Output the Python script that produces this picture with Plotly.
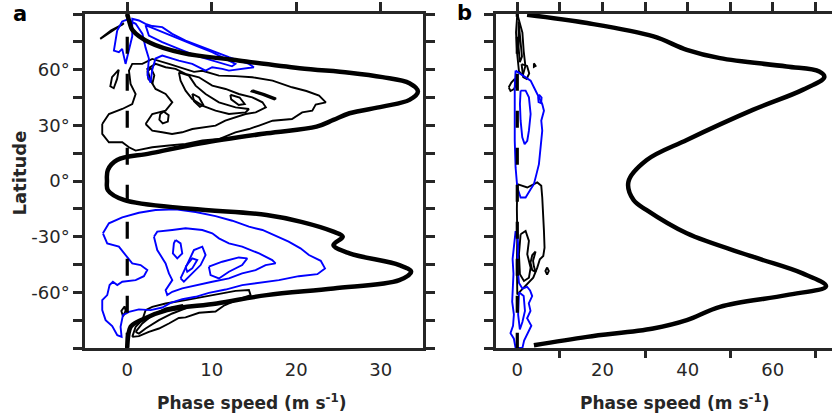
import plotly.graph_objects as go

# ---------------- thick zonal-wind profiles (phase speed, latitude) ----------------
a_u = [0, 0.3, 0.6, 2.7, 6.6, 12.5, 20.4, 26.3, 30.2, 33.4, 34.4, 33.4, 30.2, 26.3, 24.4, 22.4,
       16.5, 8.7, 2.7, -1.2, -2.3, -2.4, -2.3, -0.4, 7.5, 16.5, 20.6, 24.4, 25.5, 24.4, 26.3,
       32.2, 33.6, 32.2, 24.4, 16.5, 10.6, 4.7, 1.6, 0.4, 0, 0]
a_lat = [90, 85, 81.5, 74.5, 68.9, 65.3, 60.8, 58.4, 56, 52.7, 48.2, 43.7, 40.1, 36.5, 32.9, 29.3,
         25.7, 20.3, 14.9, 11.3, 5.9, 0, -4.9, -10.2, -15, -18.3, -22, -27.3, -30, -34.5, -39,
         -45.3, -48.9, -53.4, -57.9, -61.5, -66, -69.6, -75, -78.6, -89.4, -90]

b_u = [2.3, 16.4, 32, 39.8, 47.6, 63.2, 70.9, 72.1, 67, 55.3, 39.8, 30.4, 26.1, 27.3, 30.3,
       39.8, 55.3, 67, 72.5, 63.2, 47.6, 39.8, 31.9, 16.4, 3.9]
b_lat = [89.6, 85.1, 77.9, 70.7, 66.2, 61.7, 59, 56, 49.1, 38.3, 22.1, 11.3, -0.4, -10.3, -15.6,
         -28.2, -40.8, -49.8, -56.7, -61.5, -67.8, -75, -79.5, -84, -88.5]

# ---------------- contour outlines, panel a: (phase speed, latitude) ----------------
a_black = [
    [(-2.96, 30.7), (-2.17, 36.1), (-0.59, 38.8), (0.59, 41.5), (0.99, 46.9), (0.39, 52.3), (0.2, 59.5),
     (0.59, 63.1), (1.78, 63.1), (2.96, 65.8), (4.93, 63.1), (6.9, 60.4), (7.9, 58.8), (8.9, 59.4),
     (10.85, 56.8), (12.8, 56.5), (14.8, 55.9), (17.2, 54.1), (19.5, 50.5), (21.2, 48.5), (22.7, 46.0),
     (23.5, 42.4), (22.3, 41.2), (21.9, 37.9), (20.7, 37.0), (19.5, 33.4), (17.2, 32.5), (15.6, 29.9),
     (14.4, 28.0), (12.8, 26.25), (10.85, 22.6), (8.9, 21.8), (6.9, 20.0), (4.93, 19.1), (2.96, 18.2),
     (0.99, 16.4), (0.2, 18.2), (-0.59, 20.9), (-2.17, 20.9), (-2.96, 25.4), (-2.96, 30.7)],
    [(2.17, 30.7), (2.96, 36.1), (4.54, 37.9), (5.33, 42.4), (4.54, 46.9), (3.35, 49.6), (2.76, 54.1),
     (2.37, 60.4), (3.35, 63.1), (4.54, 61.3), (5.72, 60.4), (6.9, 57.7), (8.48, 55.9), (10.06, 51.4),
     (11.64, 49.6), (13.2, 46.9), (14.8, 45.1), (16.0, 42.4), (16.4, 39.7), (15.2, 37.0), (14.0, 36.1),
     (12.8, 34.3), (11.6, 32.5), (10.45, 29.8), (9.27, 28.9), (7.7, 28.0), (6.5, 26.25), (5.3, 25.35),
     (4.14, 26.25), (2.96, 27.1), (2.17, 30.7)],
    [(6.11, 58.6), (7.3, 56.8), (8.09, 51.4), (9.27, 46.9), (10.85, 42.4), (12.82, 39.7), (14.4, 38.8),
     (14.0, 37.0), (12.03, 36.1), (10.45, 37.9), (8.88, 40.6), (7.69, 44.2), (6.9, 48.7), (6.31, 54.1),
     (6.11, 58.6)],
    [(4.3, 37.5), (4.9, 35.5), (4.8, 32), (4.2, 31), (3.8, 33), (3.9, 36), (4.3, 37.5)],
    [(-1.0, 60), (-1.2, 55), (-1.6, 50), (-2.0, 51), (-1.8, 56), (-1.0, 60)],
    [(2.8, 61), (3.2, 57), (3.0, 53), (2.5, 55), (2.4, 59), (2.8, 61)],
    [(7.7, 47), (8.5, 45), (9.0, 41), (8.6, 40), (7.9, 43), (7.7, 47)],
    [(12.2, 46.5), (13.3, 45), (13.9, 41.5), (13.2, 41), (12.3, 44), (12.2, 46.5)],
    [(14.8, 48.9), (16.2, 47), (17.6, 44.5), (17.4, 44), (16.0, 46.4), (14.7, 48.3), (14.8, 48.9)],
    [(-3.2, 76.6), (-2.0, 80), (-0.8, 83.5), (-0.4, 85), (-0.6, 84.3), (-1.9, 81.2), (-3.0, 77.2), (-3.2, 76.6)],
    [(0.59, -84.0), (0.99, -78.6), (1.78, -75.0), (2.17, -69.6), (2.96, -67.8), (4.54, -66.0), (6.9, -64.2),
     (10.06, -61.5), (12.82, -59.2), (14.4, -58.8), (14.6, -61.5), (13.0, -64), (11.5, -67), (10.45, -70.3),
     (8.5, -71), (6.9, -73.5), (6.1, -73.8), (4.93, -76.8), (3.75, -79.5), (2.56, -81.3), (1.38, -83.6),
     (0.59, -84.0)],
    [(0.99, -81.3), (1.78, -76.8), (2.96, -72.3), (4.54, -68.7), (6.51, -66.9), (6.9, -68.7), (5.33, -71.4),
     (3.75, -75.0), (2.17, -79.5), (1.38, -82.2), (0.99, -81.3)],
    [(-0.3, -67.5), (-0.2, -70), (-0.5, -73), (-0.7, -70), (-0.3, -67.5)],
]

a_blue = [
    [(-1.19, 81.1), (-1.38, 76), (-1.58, 70.3), (-0.99, 69.4), (-0.6, 71.2), (-0.2, 63.1), (0.2, 70),
     (0.59, 78), (0.59, 87.4), (1.38, 86.5), (2.16, 84.7), (2.96, 83.5), (4.14, 82.9), (5.32, 79.3),
     (6.9, 75.7), (8.87, 72.1), (10.45, 69.4), (12.03, 66.7), (13.2, 64.9), (14.4, 63.1), (14.98, 61.3),
     (13.6, 60.4), (12.03, 59.5), (11.24, 60.4), (10.05, 61.3), (9.27, 59.5), (7.69, 63.1), (6.1, 64.9),
     (4.14, 67.6), (3.35, 66), (2.96, 60), (2.76, 53), (2.4, 57), (2.56, 66), (2.16, 72), (1.8, 79.3),
     (1.0, 84.7), (0.0, 87), (-0.6, 86), (-1.19, 81.1)],
    [(2.16, 84), (4.14, 80.2), (6.1, 76.6), (8.1, 73), (10.05, 69.4), (12.03, 64.9), (12.8, 63.1),
     (12.4, 61.8), (10.05, 64.9), (8.1, 67.6), (6.1, 71.2), (4.14, 74.8), (2.56, 78.4), (2.16, 84)],
    [(-2.88, -28.2), (-2.17, -22.8), (-0.59, -19.6), (1.38, -17.1), (3.35, -15.65), (5.72, -15.3),
     (8.09, -16.7), (10.45, -18.9), (12.43, -21.4), (14.4, -24.6), (16.0, -26.4), (17.55, -29.7),
     (19.1, -32.7), (20.5, -36.3), (21.5, -39.9), (22.9, -43), (23.4, -47.1), (22.5, -50.2), (20.3, -51.3),
     (17.95, -53.4), (15.6, -54.7), (13.6, -56.1), (11.64, -58.5), (9.66, -60.3), (8.09, -62.4),
     (6.51, -63.7), (5.13, -65.7), (4.14, -68.2), (2.76, -69.6), (1.38, -69.2), (0.2, -70.5),
     (-0.51, -72.3), (-0.79, -78.6), (-0.67, -84.0), (-1.18, -83.1), (-1.78, -78.2), (-2.56, -75),
     (-2.96, -69.6), (-2.96, -64.2), (-2.37, -61.5), (-2.09, -56.1), (-1.70, -54.3), (-1.18, -56.1),
     (-0.59, -54.3), (0.99, -53.4), (1.97, -51.3), (2.37, -48), (1.58, -45.3), (0.59, -44.4),
     (-0.2, -39.9), (-0.99, -35.4), (-2.37, -33.6), (-2.88, -28.2)],
    [(3.16, -30.0), (3.55, -27.3), (5.33, -26.4), (6.9, -25.5), (8.88, -26.4), (10.06, -28.2),
     (10.85, -30.9), (12.03, -33.6), (13.6, -35.4), (15.6, -39.0), (17.16, -42.6), (17.55, -44.4),
     (16.37, -45.3), (15.19, -48.0), (13.6, -49.8), (12.03, -52.5), (10.06, -54.3), (8.09, -56.1),
     (6.51, -57.9), (5.33, -59.7), (4.73, -61.5), (4.54, -58.8), (5.33, -53.4), (4.93, -49.8),
     (4.54, -44.4), (3.55, -37.2), (3.16, -30.0)],
    [(5.72, -31.8), (6.31, -33.6), (6.51, -39.0), (5.92, -41.7), (5.4, -39.0), (5.52, -33.6), (5.72, -31.8)],
    [(6.31, -52.5), (7.1, -44.4), (7.89, -37.2), (8.88, -35.4), (9.27, -39.9), (8.68, -45.3), (7.69, -49.8),
     (6.7, -54.3), (6.31, -52.5)],
    [(9.66, -46.2), (11.24, -43.5), (13.2, -41.2), (14.2, -41.7), (13.6, -45.3), (12.03, -48.9),
     (10.85, -52.5), (9.86, -50.7), (9.66, -46.2)],
    [(6.9, -46.2), (7.69, -41.7), (8.28, -42.6), (7.69, -47.1), (7.1, -48.9), (6.9, -46.2)],
]

# ---------------- contour outlines, panel b ----------------
b_black = [
    [(0, 90), (1.2, 80), (1.5, 70), (1.9, 62), (1.3, 57), (0.4, 59), (0, 68), (-0.3, 80), (0, 90)],
    [(0.3, 86), (0.8, 76), (1.1, 67), (0.6, 64), (0.3, 72), (0.3, 86)],
    [(-2, 50.5), (-1.4, 53), (-0.6, 55), (-0.2, 52), (-0.8, 49.5), (-1.6, 48.5), (-2, 50.5)],
    [(1.0, 63), (2.3, 62), (2.8, 58), (2.2, 55), (1.4, 56), (1.0, 63)],
    [(3.9, 63.5), (4.3, 62), (3.9, 61.5), (3.9, 63.5)],
    [(0, -1.7), (2.34, -3.5), (4.69, -0.8), (5.63, -2.6), (5.86, -8.9), (6.1, -17.9), (6.26, -26.9),
     (6.4, -35.9), (6.1, -40.4), (5.3, -42.2), (4.69, -46.7), (3.75, -52.1), (2.34, -55.7), (0.78, -59.3),
     (0, -61.1), (-0.1, -45), (0, -30), (-0.1, -15), (0, -1.7)],
    [(0.78, -28.7), (1.95, -26.9), (2.73, -32.3), (2.34, -39.5), (3.13, -46.7), (2.73, -52.1), (1.56, -53.9),
     (0.62, -50.3), (0.39, -39.5), (0.62, -32.3), (0.78, -28.7)],
    [(4.3, -38), (3.5, -40), (3.1, -44), (3.5, -48), (4.3, -49), (3.9, -46), (3.7, -43), (4.3, -38)],
    [(7.0, -46.5), (7.4, -48.5), (7.0, -50.5), (6.6, -48.5), (7.0, -46.5)],
]

b_blue = [
    [(-0.4, 59.5), (1.95, 55.9), (3.13, 54.1), (3.9, 50.5), (4.69, 46.9), (5.86, 41.5), (6.26, 37.9),
     (5.63, 32.5), (5.86, 27.1), (5.47, 18.1), (5.08, 9.1), (4.5, 3.7), (3.9, -1.7), (3.13, -4.5),
     (1.95, -8.9), (0.78, -8.9), (0, -3.5), (-0.4, 7.3), (-0.6, 21.7), (-0.6, 36.1), (-0.6, 50.5), (-0.4, 59.5)],
    [(0.78, 48.7), (1.95, 48.7), (2.73, 45.1), (3.13, 36.1), (2.73, 27.1), (2.34, 21.7), (1.72, 19.9),
     (1.17, 23.5), (0.78, 32.5), (0.62, 41.5), (0.78, 48.7)],
    [(5.1, 46.5), (5.7, 45), (5.6, 42), (5.0, 42.5), (4.9, 45), (5.1, 46.5)],
    [(-0.4, -27), (0, -28), (0.2, -35), (0, -45), (0.4, -55), (1.2, -58), (2.3, -57), (3.0, -59), (3.5, -62),
     (2.7, -66), (3.1, -70), (2.3, -74), (3.3, -78), (2.5, -82), (1.6, -86), (1.2, -90), (-0.4, -90),
     (-0.8, -85), (-1.6, -82), (-1.0, -78), (-0.8, -72), (-1.2, -65), (-1.0, -58), (-0.9, -50), (-1.1, -42),
     (-0.8, -34), (-0.4, -27)],
    [(0.4, -60), (1.5, -62), (1.8, -70), (1.2, -76), (0.6, -80), (0.2, -72), (0.4, -60)],
]

# zero-line extent (latitude) and tick values
zero_x = [0, 0]
zero_lat = [97.7, -97.7]
lat_ticks = [-90, -75, -60, -45, -30, -15, 0, 15, 30, 45, 60, 75, 90]
lat_text = ["", "", "-60°", "", "-30°", "", "0°", "", "30°", "", "60°", "", ""]
a_xticks = [0, 10, 20, 30]
b_xlabels = [0, 20, 40, 60]
b_xminor = [10, 30, 50, 70]
b_xtop = [0, 10, 20, 30, 40, 50, 60, 70]

AX = "#262626"
FONT = "DejaVu Sans"

fig = go.Figure()


def add_contours(groups, color, xa, ya):
    for g in groups:
        fig.add_trace(go.Scatter(x=[p[0] for p in g], y=[p[1] for p in g], mode="lines",
                                 line=dict(color=color, width=1.9), xaxis=xa, yaxis=ya,
                                 showlegend=False, hoverinfo="skip"))


add_contours(a_black, "black", "x", "y")
add_contours(a_blue, "#0000ff", "x", "y")
add_contours(b_black, "black", "x2", "y2")
add_contours(b_blue, "#0000ff", "x2", "y2")

for xa, ya in (("x", "y"), ("x2", "y2")):
    fig.add_trace(go.Scatter(x=zero_x, y=zero_lat, mode="lines", xaxis=xa, yaxis=ya,
                             line=dict(color="black", width=3.2, dash="17px,20px"),
                             showlegend=False, hoverinfo="skip"))

fig.add_trace(go.Scatter(x=a_u, y=a_lat, mode="lines", line=dict(color="black", width=4.5, shape="spline"),
                         xaxis="x", yaxis="y", showlegend=False))
fig.add_trace(go.Scatter(x=b_u, y=b_lat, mode="lines", line=dict(color="black", width=4.5, shape="spline"),
                         xaxis="x2", yaxis="y2", showlegend=False))

# dummy traces so overlay axes are drawn
for xa, ya in (("x3", "y"), ("x4", "y2"), ("x5", "y2"), ("x6", "y"), ("x7", "y2")):
    fig.add_trace(go.Scatter(x=[None], y=[None], xaxis=xa, yaxis=ya, showlegend=False))

tickfont = dict(family=FONT, size=18, color=AX)
dom_a = [85 / 832, 423 / 832]
dom_b = [496 / 832, 1.0]
dom_y = [69 / 417, 403 / 417]
label_pos = 60 / 417
common = dict(showline=True, linecolor=AX, linewidth=2.5, showgrid=False, zeroline=False,
              tickcolor=AX, tickwidth=2.5, ticklen=9, tickfont=tickfont, fixedrange=True)

fig.update_layout(
    width=832, height=417, margin=dict(l=0, r=0, t=0, b=0),
    paper_bgcolor="white", plot_bgcolor="white", showlegend=False,
    # panel a: bottom line (no ticks), top ticks, labels on a free overlay axis
    xaxis=dict(domain=dom_a, range=[-5, 35], anchor="y", tickmode="array", tickvals=a_xticks,
               ticks="", showticklabels=False, mirror=False, **common),
    xaxis3=dict(overlaying="x", side="top", anchor="y", range=[-5, 35], tickmode="array",
                tickvals=a_xticks, ticks="outside", showticklabels=False, **common),
    xaxis6=dict(overlaying="x", side="bottom", anchor="free", position=label_pos, range=[-5, 35],
                tickmode="array", tickvals=a_xticks, ticks="", **{**common, "showline": False}),
    yaxis=dict(domain=dom_y, range=[-90, 90], anchor="x", tickmode="array", tickvals=lat_ticks,
               ticktext=lat_text, ticks="outside", mirror="ticks", **common),
    # panel b
    xaxis2=dict(domain=dom_b, range=[-5, 73.9], anchor="y2", tickmode="array", tickvals=b_xlabels,
                ticks="", showticklabels=False, mirror=False, **common),
    xaxis4=dict(overlaying="x2", side="top", anchor="y2", range=[-5, 73.9], tickmode="array",
                tickvals=b_xtop, ticks="outside", showticklabels=False, **common),
    xaxis5=dict(overlaying="x2", side="bottom", anchor="y2", range=[-5, 73.9], tickmode="array",
                tickvals=b_xminor, ticks="outside", showticklabels=False,
                **{**common, "showline": False}),
    xaxis7=dict(overlaying="x2", side="bottom", anchor="free", position=label_pos, range=[-5, 73.9],
                tickmode="array", tickvals=b_xlabels, ticks="", **{**common, "showline": False}),
    yaxis2=dict(domain=dom_y, range=[-90, 90], anchor="x2", tickmode="array", tickvals=lat_ticks,
                ticks="outside", showticklabels=False, mirror=False, **common),
)

title_font = dict(family=FONT, size=17, color=AX)
fig.add_annotation(text="<b>Phase speed (m s<sup>-1</sup>)</b>", x=252 / 832, y=15 / 417, xref="paper",
                   yref="paper", showarrow=False, font=title_font, xanchor="center", yanchor="middle")
fig.add_annotation(text="<b>Phase speed (m s<sup>-1</sup>)</b>", x=675 / 832, y=15 / 417, xref="paper",
                   yref="paper", showarrow=False, font=title_font, xanchor="center", yanchor="middle")
fig.add_annotation(text="<b>Latitude</b>", x=18.5 / 832, y=(417 - 173) / 417, xref="paper", yref="paper",
                   showarrow=False, textangle=-90, font=dict(family=FONT, size=18, color=AX),
                   xanchor="center", yanchor="middle")
fig.add_annotation(text="<b>a</b>", x=19.5 / 832, y=(417 - 14) / 417, xref="paper", yref="paper",
                   showarrow=False, font=dict(family=FONT, size=21, color="black"),
                   xanchor="center", yanchor="middle")
fig.add_annotation(text="<b>b</b>", x=465 / 832, y=(417 - 13) / 417, xref="paper", yref="paper",
                   showarrow=False, font=dict(family=FONT, size=21, color="black"),
                   xanchor="center", yanchor="middle")

fig.write_html("out.html")
